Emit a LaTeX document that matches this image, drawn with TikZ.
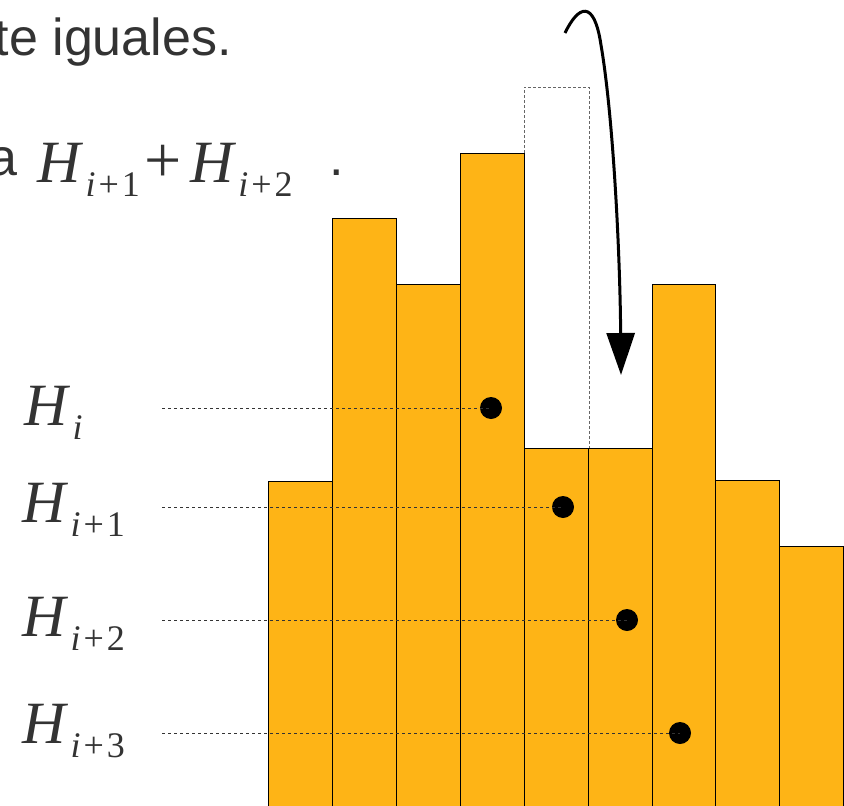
\documentclass[tikz,border=0pt]{standalone}
\usepackage{fontspec}
\setmainfont{Liberation Sans}
\newfontfamily\hserif{Liberation Serif}
\usetikzlibrary{arrows.meta,positioning}
\definecolor{barO}{RGB}{254,180,22}
\definecolor{txtG}{RGB}{51,51,51}
% H with a lowered index, set as in the slide
\newcommand{\Hidx}[1]{{\itshape H}\kern5pt\raisebox{-14pt}{\fontsize{36}{40}\selectfont #1}}
\newcommand{\ip}[1]{\textit{i}\kern3pt+\kern3pt#1}

\begin{document}
\begin{tikzpicture}[
  x=1pt, y=-1pt, >={Triangle[length=42pt, width=28pt]},
  bar/.style={draw=black, fill=barO, line width=0.8pt},
  txt/.style={inner sep=0pt, text=txtG, font=\fontsize{52}{60}\selectfont},
  hlbl/.style={inner sep=0pt, text=txtG, font=\hserif\fontsize{60}{64}\selectfont},
  guide/.style={draw=black!80, line width=0.8pt, dash pattern=on 3pt off 3pt},
  hdot/.style={circle, fill=black, inner sep=0pt, minimum size=22pt}]

  \useasboundingbox (0,0) rectangle (844,806);

  % text lines at the top (cut at the left edge)
  \node[txt, anchor=base east] (igual) at (232,55) {te iguales.};
  \node[txt, anchor=base east] (wa) at (18,175) {a};
  \node[hlbl, anchor=base west] (sumH) at (37,182)
    {\Hidx{\ip{1}}\kern5pt{\fontsize{66}{70}\selectfont+}\kern8pt\Hidx{\ip{2}}};
  \node[txt, anchor=base west] (stop) at (329,175) {.};

  % removed bar
  \draw[black!60, line width=0.8pt, dash pattern=on 3pt off 2pt]
    (524,448) -- (524,87) -- (589,87) -- (589,448);

  % bars
  \foreach \xa/\xb/\top in {268/332/481, 332/396/218, 396/460/284,
      460/524/153, 524/588/448, 588/652/448, 652/715/284,
      715/779/480, 779/843/546}
    \draw[bar] (\xa,812) rectangle (\xb,\top);

  % labels, guide lines and dots
  \node[hlbl, anchor=base west] (h0) at (24,425) {\Hidx{\textit{i}}};
  \node[hlbl, anchor=base west] (h1) at (22,522) {\Hidx{\ip{1}}};
  \node[hlbl, anchor=base west] (h2) at (22,636) {\Hidx{\ip{2}}};
  \node[hlbl, anchor=base west] (h3) at (22,743) {\Hidx{\ip{3}}};

  \node[hdot] (d0) at (491,408) {};
  \node[hdot] (d1) at (563,507) {};
  \node[hdot] (d2) at (627,620) {};
  \node[hdot] (d3) at (680,733) {};

  \coordinate (g0) at (162,408);
  \coordinate (g1) at (162,507);
  \coordinate (g2) at (162,620);
  \coordinate (g3) at (162,733);
  \foreach \k in {0,...,3}
    \draw[guide] (g\k) -- (d\k.center);

  % moving arrow
  \coordinate (arrS) at (565,33);
  \coordinate (arrE) at (621,375);
  \draw[->, line width=3pt] (arrS) .. controls (578,6) and (594,-2) .. (601,45)
    .. controls (613,115) and (620,250) .. (arrE);
\end{tikzpicture}
\end{document}
